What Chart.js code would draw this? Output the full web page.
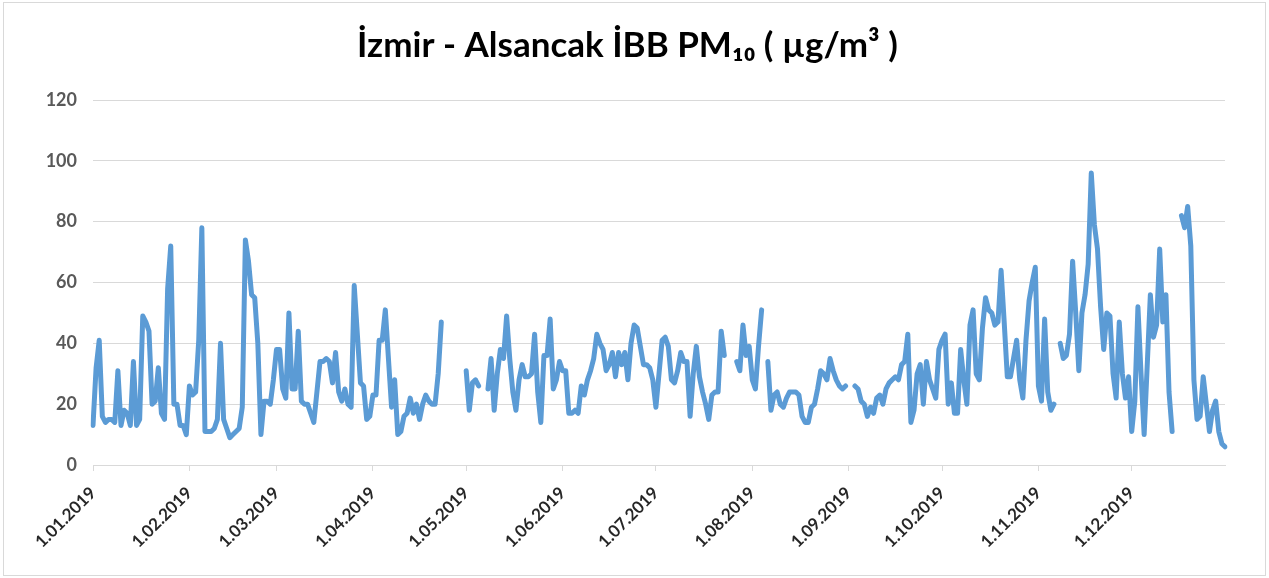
<!DOCTYPE html>
<html>
<head>
<meta charset="utf-8">
<script src="https://cdn.jsdelivr.net/npm/chart.js@4.4.1/dist/chart.umd.min.js"></script>
<style>
  html, body { margin: 0; padding: 0; background: #fff; }
  #wrap { position: relative; width: 1269px; height: 578px; }
  #frame { position: absolute; left: 3px; top: 2px; width: 1261px; height: 572px; border: 1px solid #d9d9d9; pointer-events: none; }
</style>
</head>
<body>
<div id="wrap">
  <canvas id="pm10"></canvas>
  <div id="frame"></div>
</div>
<script>
  // daily PM10 values, µg/m³ (null = no measurement)
  const jan = [13,32,41,16,14,15,15,14,31,13,18,17,13,34,13,15,49,47,44,20,21,32,17,15,58,72,20,20,13,13,10];
  const feb = [26,23,24,41,78,11,11,11,12,15,40,15,12,9,10,11,12,19,74,67,56,55,40,10,21,21,20,28];
  const mar = [38,38,25,22,50,25,25,44,21,20,20,17,14,24,34,34,35,34,27,37,24,21,25,20,19,59,43,27,26,15,16];
  const apr = [23,23,41,41,51,35,19,28,10,11,16,17,22,17,20,15,20,23,21,20,20,30,47,null,null,null,null,null,null,null];
  const may = [31,18,27,28,26,null,null,25,35,18,30,38,35,49,35,24,18,28,33,29,29,30,43,24,14,36,36,48,25,28,34];
  const jun = [31,31,17,17,18,17,26,23,28,31,35,43,40,38,31,33,37,29,37,33,37,28,40,46,45,39,33,33,32,28];
  const jul = [19,30,41,42,39,28,27,31,37,34,34,16,30,39,29,24,20,15,23,24,24,44,36,null,null,null,34,31,46,36,39];
  const aug = [28,25,39,51,null,34,18,23,24,20,19,22,24,24,24,23,16,14,14,19,20,25,31,30,28,35,31,28,26,25,26];
  const sep = [null,null,26,25,21,20,16,19,17,22,23,20,25,27,28,29,28,33,34,43,14,18,30,33,20,34,28,25,22,38];
  const oct = [41,43,20,27,17,17,38,28,20,46,51,30,28,45,55,51,50,46,47,64,47,29,29,35,41,28,22,41,54,60,65];
  const nov = [26,21,48,24,18,20,null,40,35,36,43,67,50,31,50,56,66,96,79,71,52,38,50,49,30,22,47,30,22,29];
  const dec = [11,21,52,30,10,33,56,42,46,71,47,56,24,11,null,null,82,78,85,72,28,15,16,29,20,11,18,21,11,7,6];

  const months = [jan, feb, mar, apr, may, jun, jul, aug, sep, oct, nov, dec];
  const yTicks = [0, 20, 40, 60, 80, 100, 120];

  const values = [].concat(...months);
  const labels = [];
  months.forEach((arr, m) => {
    arr.forEach((_, i) => {
      labels.push((i + 1) + '.' + String(m + 1).padStart(2, '0') + '.2019');
    });
  });

  const isMonthStart = (lbl) => typeof lbl === 'string' && lbl.startsWith('1.');

  new Chart(document.getElementById('pm10'), {
    type: 'line',
    data: {
      labels,
      datasets: [{
        label: 'PM10',
        data: values,
        borderColor: '#5b9bd5',
        backgroundColor: '#5b9bd5',
        borderWidth: 5,
        borderCapStyle: 'round',
        borderJoinStyle: 'round',
        pointRadius: 0,
        tension: 0,
        spanGaps: false,
        fill: false
      }]
    },
    options: {
      responsive: true,
      maintainAspectRatio: false,
      animation: false,
      layout: { padding: { left: 30, right: 44, top: 0, bottom: 0 } },
      plugins: {
        legend: { display: false },
        tooltip: { enabled: false },
        title: {
          display: true,
          text: 'İzmir - Alsancak İBB PM₁₀ ( µg/m³ )',
          color: '#000',
          font: { family: 'Lato', size: 35, weight: 'bold' },
          padding: { top: 25, bottom: 33 }
        }
      },
      scales: {
        x: {
          offset: false,
          afterFit: (s) => { s.height = 113; },
          grid: {
            drawOnChartArea: false,
            drawTicks: true,
            tickLength: 6,
            color: (c) => (c.tick && c.tick.label) ? '#d9d9d9' : 'rgba(0,0,0,0)'
          },
          border: { display: true, color: '#d9d9d9', width: 1 },
          ticks: {
            autoSkip: false,
            maxRotation: 45,
            minRotation: 45,
            padding: 12,
            color: '#262626',
            font: { family: 'Lato', size: 17, weight: 'bold' },
            callback: function (value) {
              const l = this.getLabelForValue(value);
              return isMonthStart(l) ? l : '';
            }
          }
        },
        y: {
          min: 0,
          max: 120,
          afterFit: (s) => { s.width = 63; },
          afterBuildTicks: (s) => { s.ticks = yTicks.map(v => ({ value: v })); },
          grid: { color: '#d9d9d9', lineWidth: 1, drawTicks: false },
          border: { display: false },
          ticks: {
            padding: 16,
            color: '#595959',
            font: { family: 'Lato', size: 18, weight: 'bold' }
          }
        }
      }
    }
  });
</script>
</body>
</html>
